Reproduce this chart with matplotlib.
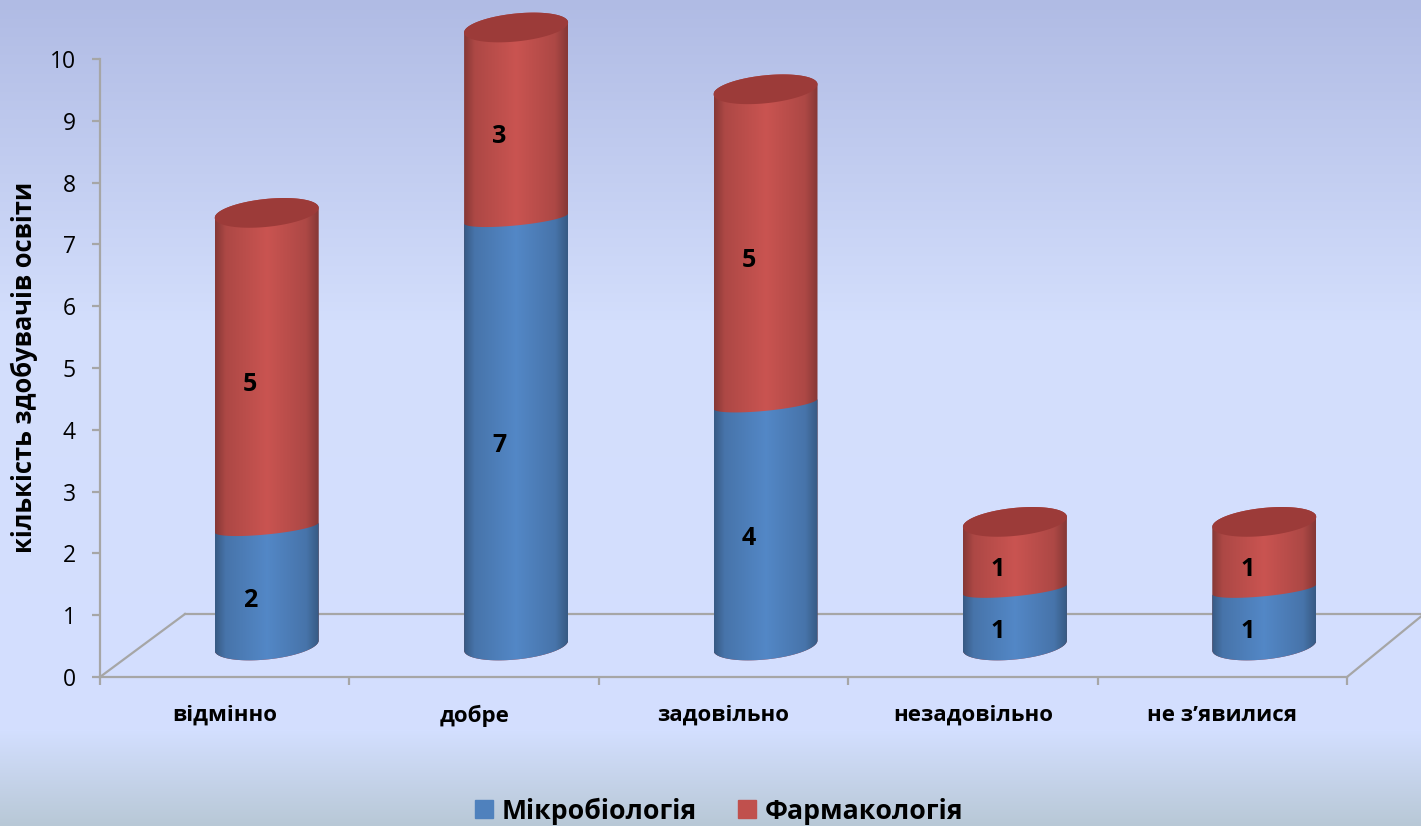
import numpy as np
import matplotlib
matplotlib.use("Agg")
import matplotlib.pyplot as plt
from matplotlib.patches import Patch, Polygon

# data
categories = ["відмінно", "добре", "задовільно", "незадовільно", "не з’явилися"]
series_names = ["Мікробіологія", "Фармакологія"]
mikrobiologia = [2, 7, 4, 1, 1]
farmakologia = [5, 3, 5, 1, 1]
y_ticks = list(range(0, 11))

# look
W, H = 1421, 826
FONT = ["Open Sans", "DejaVu Sans"]
BLUE = "#4F81BD"
RED = "#C0504D"
GREY = "#A6A6A6"
plt.rcParams["font.family"] = FONT

# 3d look of the chart, all in data units
PX_X = 5 / 1247  # one pixel on the x scale
PX_Y = 10 / 618  # one pixel on the y scale
BAR_SHIFT = 42 * PX_X
BAR_HALF = 52 * PX_X
DEPTH = 0.51
SEAM_DROP = 0.09
CAP_B = 14 * PX_Y
CAP_TILT = 5 * PX_Y
SEAM_B = 7 * PX_Y
LABEL_SHIFT = 25 * PX_X
LABEL_DROP = 0.27

fig = plt.figure(figsize=(W / 100, H / 100), dpi=100)

# page background
bg = fig.add_axes([0, 0, 1, 1], zorder=-1)
rows = np.arange(H)
grad = np.stack(
    [
        np.interp(rows, [0, 320, 730, 826], [176, 211, 211, 184]),
        np.interp(rows, [0, 320, 730, 826], [187, 222, 223, 200]),
        np.interp(rows, [0, 320, 730, 826], [228, 252, 255, 214]),
    ],
    axis=1,
)[:, None, :] / 255
bg.imshow(grad, aspect="auto")
bg.axis("off")

ax = fig.add_axes([100 / W, (H - 677) / H, 1247 / W, 618 / H])
ax.patch.set_alpha(0)
ax.set_xlim(0, 5)
ax.set_ylim(0, 10)


def shade(color, edge=0.7, mid=1.05):
    # dark at the sides of the cylinder, light a bit left of centre
    base = np.array(matplotlib.colors.to_rgb(color))
    t = np.linspace(0, 1, 120)
    k = np.interp(t, [0, 0.1, 0.5, 0.88, 1], [edge, 0.9, mid, 0.9, edge])
    return np.clip(base[None, None, :] * k[None, :, None], 0, 1)


def ring(cx, cy, t, b=CAP_B):
    return np.column_stack(
        [cx + BAR_HALF * np.cos(t), cy + b * np.sin(t) + CAP_TILT * np.cos(t)]
    )


def cylinder(cx, y0, y1, color, zorder, seam=False):
    front = np.linspace(np.pi, 2 * np.pi, 60)
    back = np.linspace(0, np.pi, 60)
    # a seam between segments only shows its front edge
    if seam:
        upper = ring(cx, y1, front[::-1], b=SEAM_B)
    else:
        upper = ring(cx, y1, back)
    outline = np.vstack([ring(cx, y0, front), upper])
    poly = Polygon(outline, closed=True, transform=ax.transData, fc="none", ec="none")
    ax.add_patch(poly)
    poly.set_clip_on(False)
    im = ax.imshow(
        shade(color),
        aspect="auto",
        zorder=zorder,
        extent=(cx - BAR_HALF, cx + BAR_HALF, y0 - 2 * CAP_B, y1 + 2 * CAP_B),
    )
    im.set_clip_box(fig.bbox)
    im.set_clip_path(poly)


# floor and axes lines
x_edges = np.arange(len(categories) + 1)
floor_y = 63 * PX_Y
ax.plot([0, 85 * PX_X], [0, floor_y], color=GREY, lw=1.6, clip_on=False, zorder=1)
ax.plot([85 * PX_X, 5 + 74 * PX_X], [floor_y, floor_y], color=GREY, lw=1.6, clip_on=False, zorder=1)
ax.plot([5, 5 + 74 * PX_X], [0, floor_y - 0.04], color=GREY, lw=1.6, clip_on=False, zorder=1)

# stacked cylinders
centers = np.arange(len(categories)) + 0.5
for c, a, b in zip(centers, mikrobiologia, farmakologia):
    cx = c + BAR_SHIFT
    cylinder(cx, DEPTH, DEPTH + a + b, RED, 3)
    cylinder(cx, DEPTH, DEPTH + a - SEAM_DROP, BLUE, 4, seam=True)
    # top cap
    t = np.linspace(0, 2 * np.pi, 120)
    ax.add_patch(Polygon(ring(cx, DEPTH + a + b, t), closed=True, fc="#9C3B39", ec="none",
                         zorder=5, clip_on=False))
    ax.text(c + LABEL_SHIFT, DEPTH + a / 2 - LABEL_DROP, str(a), ha="center", va="center",
            fontsize=18, fontweight="bold", color="black", zorder=6)
    ax.text(c + LABEL_SHIFT, DEPTH + a + b / 2 - LABEL_DROP, str(b), ha="center", va="center",
            fontsize=18, fontweight="bold", color="black", zorder=6)

ax.set_xlim(0, 5)
ax.set_ylim(0, 10)

for s in ["top", "right"]:
    ax.spines[s].set_visible(False)
for s in ["left", "bottom"]:
    ax.spines[s].set_color(GREY)
    ax.spines[s].set_linewidth(1.6)

ax.set_yticks(y_ticks)
ax.tick_params(axis="y", length=6, width=1.6, color=GREY, labelsize=16.5, pad=11.5)
ax.set_xticks(x_edges)
ax.set_xticklabels([])
ax.tick_params(axis="x", which="major", length=6, width=1.6, color=GREY)
ax.set_xticks(centers, minor=True)
ax.set_xticklabels(categories, minor=True, fontsize=16, fontweight="bold")
ax.tick_params(axis="x", which="minor", length=0, pad=20)

fig.text(24 / W, 1 - 367 / H, "кількість здобувачів освіти", rotation=90, ha="center", va="center",
         fontsize=18.4, fontweight="bold")

handles = [Patch(color=BLUE, label=series_names[0]), Patch(color=RED, label=series_names[1])]
fig.legend(
    handles=handles,
    loc="center",
    bbox_to_anchor=(719 / W, 1 - 811 / H),
    ncol=2,
    frameon=False,
    prop={"size": 19.2, "weight": "bold"},
    handlelength=0.67,
    handleheight=0.67,
    handletextpad=0.33,
    columnspacing=1.55,
    borderpad=0,
)

fig.savefig("out.png", dpi=100)
